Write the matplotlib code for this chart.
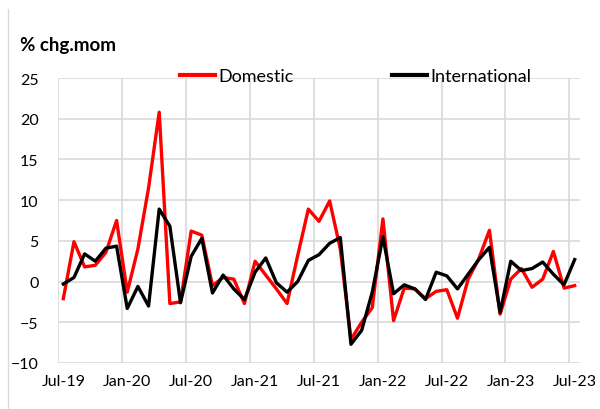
import numpy as np
import matplotlib
matplotlib.use("Agg")
import matplotlib.pyplot as plt
from matplotlib.lines import Line2D

plt.rcParams['font.family'] = ['Lato', 'DejaVu Sans']

# monthly % change, Jul-19 .. Jul-23
domestic = [-2.1, 4.9, 1.8, 2.0, 3.6, 7.5, -1.3, 4.0, 11.5, 20.8,
            -2.7, -2.5, 6.2, 5.7, -0.5, 0.5, 0.3, -2.7, 2.5, 0.8,
            -0.9, -2.7, 3.2, 8.9, 7.4, 9.9, 4.0, -7.1, -5.0, -3.2,
            7.7, -4.8, -0.8, -0.9, -2.1, -1.2, -1.0, -4.5, 0.3, 2.8,
            6.3, -4.0, 0.3, 1.6, -0.7, 0.3, 3.7, -0.8, -0.5]
international = [-0.3, 0.5, 3.4, 2.5, 4.1, 4.35, -3.3, -0.6, -3.0, 8.9,
                 6.8, -2.6, 3.1, 5.3, -1.4, 0.8, -0.9, -2.2, 1.15, 2.9,
                 -0.15, -1.3, 0.0, 2.6, 3.3, 4.7, 5.4, -7.7, -6.0, -1.3,
                 5.5, -1.5, -0.4, -0.9, -2.2, 1.15, 0.7, -0.9, 0.9, 2.7,
                 4.2, -3.8, 2.5, 1.35, 1.6, 2.4, 0.9, -0.4, 2.7]
tick_labels = ['Jul-19', 'Jan-20', 'Jul-20', 'Jan-21', 'Jul-21',
               'Jan-22', 'Jul-22', 'Jan-23', 'Jul-23']

x = np.arange(len(domestic))

fig = plt.figure(figsize=(6, 4.1), dpi=100)
ax = fig.add_axes([58/600, 1-364/410, 522/600, 285/410])

grid_c = '#d9d9d9'
for k in range(0, 49, 6):
    ax.axvline(k - 0.5, color=grid_c, lw=1.2, zorder=0)
for v in range(-10, 26, 5):
    ax.axhline(v, color=grid_c, lw=1.2, zorder=0)

ax.plot(x, domestic, color='#ff0000', lw=2.4, label='Domestic', zorder=2)
ax.plot(x, international, color='black', lw=2.4, label='International', zorder=3)

ax.set_xlim(-0.5, 48.5)
ax.set_ylim(-10, 25)
ax.set_yticks(range(-10, 26, 5))
ax.set_xticks(range(0, 49, 6))
ax.set_xticklabels(tick_labels)
for s in ax.spines.values():
    s.set_visible(False)
ax.tick_params(length=0, labelsize=11.5, colors='black')
ax.tick_params(axis='y', pad=14)
ax.tick_params(axis='x', pad=8)

leg = ax.legend(ncol=2, loc='center left', bbox_to_anchor=(180/600, 1-77/410),
                bbox_transform=fig.transFigure, frameon=False,
                fontsize=13, handlelength=1.95, handletextpad=0.2,
                columnspacing=5.4, borderaxespad=0, borderpad=0)
for h in leg.get_lines():
    h.set_linewidth(3)

fig.text(20/600, 1-45/410, '% chg.mom', fontsize=13.5, fontweight='bold',
         ha='left', va='center')
fig.add_artist(Line2D([8/600, 8/600], [0, 1-10/410], color='#d9d9d9', lw=1))

fig.savefig('out.png', dpi=100)
